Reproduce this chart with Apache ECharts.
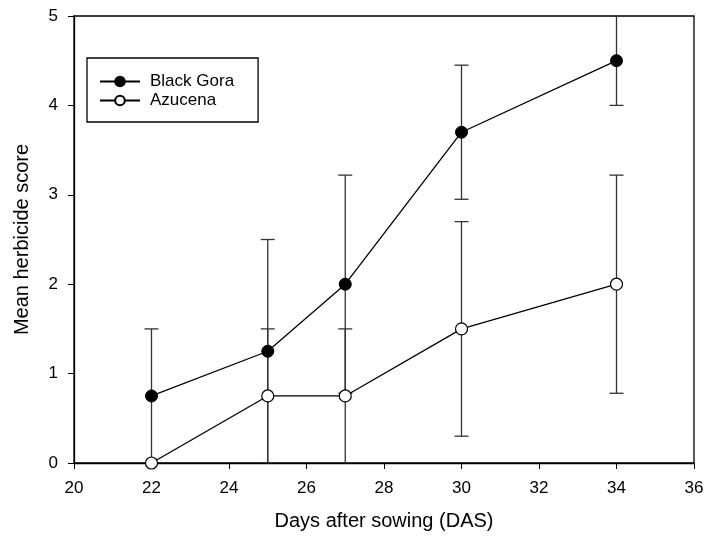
<!DOCTYPE html>
<html>
<head>
<meta charset="utf-8">
<script src="https://cdn.jsdelivr.net/npm/echarts@6/dist/echarts.min.js"></script>
<style>
  html, body { margin: 0; padding: 0; background: #fff; }
  #chart { width: 708px; height: 540px; }
</style>
</head>
<body>
<div id="chart"></div>
<script>
// data
const days = [22, 25, 27, 30, 34];
const blackGora = [0.75, 1.25, 2.0, 3.7, 4.5];
const blackGoraErr = [0.75, 1.25, 1.22, 0.75, 0.5];
const azucena = [0, 0.75, 0.75, 1.5, 2.0];
const azucenaErr = [0, 0.75, 0.75, 1.2, 1.22];

const font = 'Liberation Sans, Arial, sans-serif';

// build [x, low, high] for error bars
const errData = (ys, errs) => days.map((d, i) => [d, Math.max(0, ys[i] - errs[i]), ys[i] + errs[i]]);

const renderErr = (params, api) => {
  const x = api.value(0);
  const lo = api.coord([x, api.value(1)]);
  const hi = api.coord([x, api.value(2)]);
  const w = 7;
  const style = { stroke: '#333', lineWidth: 1.3 };
  return {
    type: 'group',
    children: [
      { type: 'line', shape: { x1: lo[0], y1: lo[1], x2: hi[0], y2: hi[1] }, style },
      { type: 'line', shape: { x1: hi[0] - w, y1: hi[1], x2: hi[0] + w, y2: hi[1] }, style },
      { type: 'line', shape: { x1: lo[0] - w, y1: lo[1], x2: lo[0] + w, y2: lo[1] }, style }
    ]
  };
};

const chart = echarts.init(document.getElementById('chart'));
chart.setOption({
  animation: false,
  grid: { left: 74, right: 14, top: 16, bottom: 77, show: true, borderColor: '#000', borderWidth: 1.3 },
  legend: {
    left: 87, top: 58,
    orient: 'vertical',
    borderColor: '#000', borderWidth: 1.3,
    padding: [15, 24, 13, 12],
    itemWidth: 40, itemHeight: 12, itemGap: 2,
    textStyle: { fontFamily: font, fontSize: 17, color: '#000', padding: [0, 0, 0, 5] },
    data: ['Black Gora', 'Azucena']
  },
  xAxis: {
    type: 'value', min: 20, max: 36, interval: 2,
    name: 'Days after sowing (DAS)', nameLocation: 'middle', nameGap: 48,
    nameTextStyle: { fontFamily: font, fontSize: 20, color: '#000' },
    axisLine: { show: true, lineStyle: { color: '#000', width: 1.3 } },
    axisTick: { show: true, inside: false, length: 6, lineStyle: { color: '#000' } },
    axisLabel: { fontFamily: font, fontSize: 17, color: '#000', margin: 17 },
    splitLine: { show: false }
  },
  yAxis: {
    type: 'value', min: 0, max: 5, interval: 1,
    name: 'Mean herbicide score', nameLocation: 'middle', nameGap: 42,
    nameTextStyle: { fontFamily: font, fontSize: 20, color: '#000' },
    axisLine: { show: true, lineStyle: { color: '#000', width: 1.3 } },
    axisTick: { show: true, inside: false, length: 6, lineStyle: { color: '#000' } },
    axisLabel: { fontFamily: font, fontSize: 17, color: '#000', margin: 16 },
    splitLine: { show: false }
  },
  series: [
    {
      type: 'custom', name: 'errBG', renderItem: renderErr, clip: true,
      data: errData(blackGora, blackGoraErr), z: 1
    },
    {
      type: 'custom', name: 'errAz', renderItem: renderErr, clip: true,
      data: errData(azucena, azucenaErr).filter((d, i) => azucenaErr[i] > 0), z: 1
    },
    {
      name: 'Black Gora', type: 'line',
      data: days.map((d, i) => [d, blackGora[i]]),
      symbol: 'circle', symbolSize: 12,
      lineStyle: { color: '#000', width: 1.3 },
      itemStyle: { color: '#000', borderColor: '#000', borderWidth: 1 },
      z: 3
    },
    {
      name: 'Azucena', type: 'line',
      data: days.map((d, i) => [d, azucena[i]]),
      symbol: 'circle', symbolSize: 12,
      lineStyle: { color: '#000', width: 1.3 },
      itemStyle: { color: '#fff', borderColor: '#000', borderWidth: 1.2 },
      z: 3
    }
  ]
});
</script>
</body>
</html>
